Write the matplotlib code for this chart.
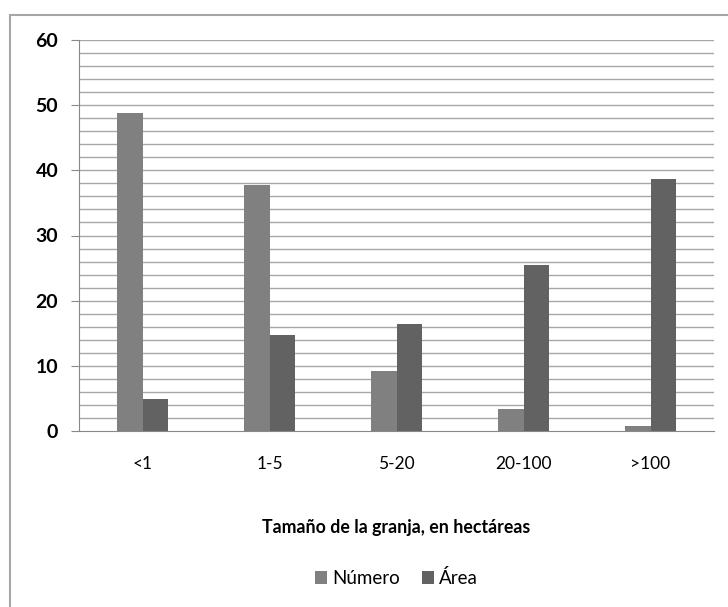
import numpy as np
import matplotlib.pyplot as plt
from matplotlib.patches import Rectangle

# datos
categorias = ['<1', '1-5', '5-20', '20-100', '>100']
numero = [48.8, 37.7, 9.2, 3.4, 0.8]
area = [4.9, 14.7, 16.4, 25.5, 38.7]
y_ticks = [0, 10, 20, 30, 40, 50, 60]

plt.rcParams['font.family'] = ['Lato', 'DejaVu Sans']

fig = plt.figure(figsize=(7.28, 6.07), dpi=100)
fig.patch.set_facecolor('white')

# borde exterior del grafico (solo izquierda y arriba visibles)
W, H = 728, 607
fig.add_artist(Rectangle((10 / W, -0.1), 1.2, (H - 15) / H + 0.1,
                         transform=fig.transFigure, fill=False,
                         edgecolor='#a6a6a6', linewidth=1.5))

ax = fig.add_axes([79 / W, 1 - 431 / H, (714 - 79) / W, (431 - 40) / H])

x = np.arange(len(categorias))
ancho = 0.197
ax.bar(x - ancho / 2, numero, ancho, color='#808080', label='Número', zorder=3)
ax.bar(x + ancho / 2, area, ancho, color='#626262', label='Área', zorder=3)

ax.set_xlim(-0.5, len(categorias) - 0.5)
ax.set_ylim(0, 60)

# cuadricula cada 2 unidades
for v in np.arange(2, 61, 2):
    ax.axhline(v, color='#a8a8a8', linewidth=1.0, zorder=1)

ax.set_yticks(y_ticks)
ax.set_yticklabels([str(t) for t in y_ticks], fontsize=14, fontweight='bold')
ax.tick_params(axis='y', length=6, color='#888888', pad=9)
ax.set_xticks(x)
ax.set_xticklabels(categorias, fontsize=12.5)
ax.tick_params(axis='x', length=0, pad=18)

for s in ['top', 'right']:
    ax.spines[s].set_visible(False)
ax.spines['left'].set_color('#888888')
ax.spines['bottom'].set_color('#888888')

ax.set_xlabel('Tamaño de la granja, en hectáreas', fontsize=12.8,
              fontweight='bold', labelpad=34)

ax.legend(loc='upper center', bbox_to_anchor=(0.5, -0.31), ncol=2,
          frameon=False, fontsize=13.5, handlelength=0.65, handleheight=0.65,
          handletextpad=0.25, columnspacing=1.2)

plt.savefig('out.png', dpi=100)
